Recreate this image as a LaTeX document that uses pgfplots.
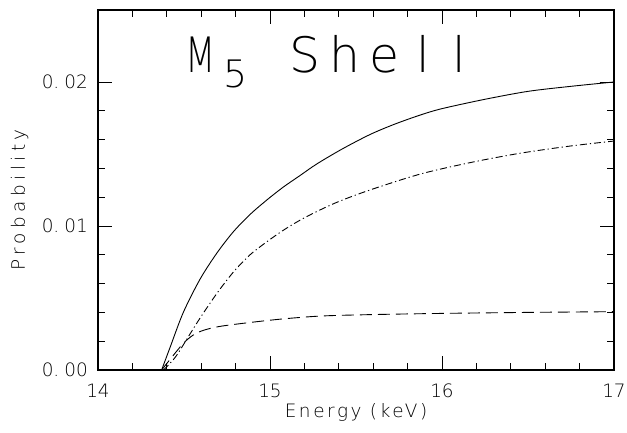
\documentclass[border=0pt]{standalone}
\usepackage{pgfplots}
\pgfplotsset{compat=1.18}
\usepackage{fontspec}
\setmainfont{DejaVu Sans ExtraLight}
\newfontfamily\tickfont{DejaVu Sans ExtraLight}
\newfontfamily\xlabfont{DejaVu Sans ExtraLight}[LetterSpace=14]
\newfontfamily\ylabfont{DejaVu Sans ExtraLight}[LetterSpace=24]
\newfontfamily\titlefont{DejaVu Sans ExtraLight}
\begin{document}
\begin{tikzpicture}
\useasboundingbox (-98bp,-63bp) rectangle (529bp,370bp);
\begin{axis}[
  at={(0,0)}, anchor=south west,
  scale only axis, width=516bp, height=360bp,
  xmin=14, xmax=17, ymin=0, ymax=0.025,
  xtick={14,15,16,17}, xticklabels={14,15,16,17},
  ytick={0,0.01,0.02}, yticklabels={0.\hspace{5bp}00,0.\hspace{5bp}01,0.\hspace{5bp}02},
  scaled y ticks=false,
  minor x tick num=4, minor y tick num=4,
  tick align=inside,
  major tick length=14bp, minor tick length=7bp,
  tick style={black, line width=0.7pt},
  axis line style={black, line width=1.1pt},
  xticklabel style={font=\tickfont\fontsize{18.5}{18.5}\selectfont, anchor=base, yshift=-27bp, inner sep=0pt},
  yticklabel style={font=\tickfont\fontsize{18.5}{18.5}\selectfont, anchor=east, xshift=-10bp, inner sep=0pt},
  xlabel={Energy (keV)},
  xlabel style={font=\xlabfont\fontsize{18.5}{18.5}\selectfont, at={(axis description cs:0.5,0)}, anchor=base, yshift=-47bp, inner sep=0pt},
  ylabel={Probability},
  ylabel style={font=\ylabfont\fontsize{18.5}{18.5}\selectfont, at={(axis description cs:-0.1415,0.472)}, anchor=base, inner sep=0pt},
  clip=true,
]
\addplot[black, line width=0.9pt, smooth, tension=0.5] coordinates {
(14.37,0) (14.42,0.0016) (14.496,0.0040) (14.593,0.0063) (14.69,0.0081)
(14.787,0.0096) (14.884,0.0108) (14.981,0.0118) (15.077,0.0127) (15.174,0.0135)
(15.271,0.0143) (15.42,0.01535) (15.581,0.01635) (15.72,0.01705) (15.872,0.0177)
(16.0,0.01815) (16.25,0.0188) (16.5,0.01935) (16.75,0.0197) (17.0,0.0200)
};
\addplot[black, line width=0.9pt, smooth, tension=0.5, dash pattern=on 7bp off 3bp on 1.2bp off 3bp] coordinates {
(14.38,0) (14.45,0.0009) (14.535,0.0025) (14.593,0.0036) (14.69,0.0053)
(14.787,0.0068) (14.884,0.0080) (14.981,0.0089) (15.077,0.0097) (15.174,0.0104)
(15.271,0.0110) (15.4,0.0117) (15.581,0.0125) (15.872,0.0136) (16.163,0.0144)
(16.453,0.01505) (16.744,0.01555) (17.0,0.0159)
};
\addplot[black, line width=0.9pt, smooth, tension=0.5, dash pattern=on 12bp off 6bp] coordinates {
(14.37,0) (14.41,0.0006) (14.457,0.0013) (14.5,0.0019) (14.55,0.0024)
(14.6,0.0027) (14.65,0.00288) (14.72,0.00305) (14.884,0.0033) (15.077,0.00355)
(15.3,0.00375) (15.6,0.00385) (16.0,0.00393) (16.5,0.0040) (17.0,0.00405)
};
\node[anchor=base west, inner sep=0pt, font=\titlefont\fontsize{49}{49}\selectfont]
  at (axis cs:14.593,0.020625)
  {\makebox[0pt]{\scalebox{0.72}[1]{M}}\hspace{35.5bp}\makebox[0pt]{\raisebox{-15bp}{\fontsize{38}{38}\selectfont 5}}\hspace{69.5bp}\makebox[0pt]{S}\hspace{39.5bp}\makebox[0pt]{h}\hspace{39.5bp}\makebox[0pt]{e}\hspace{39bp}\makebox[0pt]{l}\hspace{36.5bp}\makebox[0pt]{l}};
\end{axis}
\end{tikzpicture}
\end{document}
